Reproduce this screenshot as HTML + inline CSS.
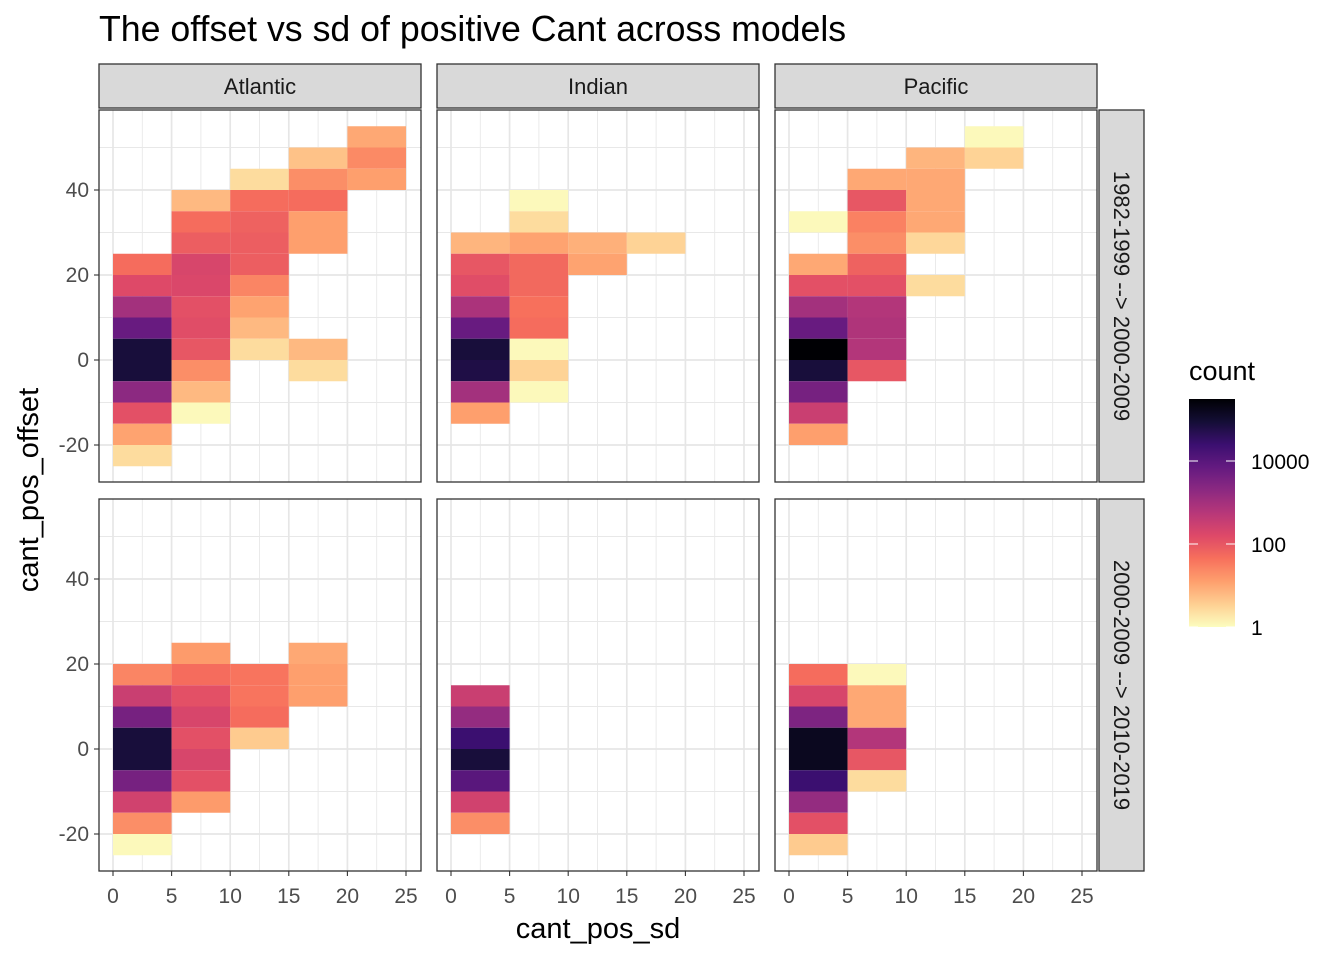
<!DOCTYPE html>
<html><head><meta charset="utf-8">
<style>
body{margin:0;background:#fff;}
svg text{font-family:"Liberation Sans",sans-serif;}
</style></head>
<body>
<svg id="chart" width="1344" height="960" viewBox="0 0 1344 960" xmlns="http://www.w3.org/2000/svg">
<rect width="1344" height="960" fill="#fff"/>
<text x="99" y="41" font-size="35.7" fill="#000">The offset vs sd of positive Cant across models</text>
<g id="panels"></g>
<text x="598" y="938" font-size="29" text-anchor="middle">cant_pos_sd</text>
<text transform="translate(38,490) rotate(-90)" font-size="29" text-anchor="middle">cant_pos_offset</text>
<g id="legend"></g>
</svg>
<script>
const NS="http://www.w3.org/2000/svg";
const facetCols=["Atlantic","Indian","Pacific"];
const facetRows=["1982-1999 --> 2000-2009","2000-2009 --> 2010-2019"];
const xTicks=[0,5,10,15,20,25];
const yTicks=[-20,0,20,40];
const legendTicks=[1,100,10000];
// tiles: [col, row, sdBinStart, offsetBinStart, log10(count)]
const tileCol=[];const tileRow=[];const tileX=[];const tileY=[];const tileLog=[];
function add(c,r,x,list){for(const [y,l] of list){tileCol.push(c);tileRow.push(r);tileX.push(x);tileY.push(y);tileLog.push(l);}}
// Atlantic top
add(0,0,0,[[20,1.7],[15,2.2],[10,3.0],[5,3.8],[0,4.9],[-5,4.9],[-10,3.3],[-15,2.1],[-20,1.05],[-25,0.4]]);
add(0,0,5,[[35,0.8],[30,1.7],[25,1.9],[20,2.3],[15,2.25],[10,2.1],[5,2.15],[0,2.0],[-5,1.3],[-10,0.8],[-15,0.05]]);
add(0,0,10,[[40,0.4],[35,1.7],[30,1.85],[25,1.9],[20,1.9],[15,1.4],[10,1.05],[5,0.8],[0,0.4]]);
add(0,0,15,[[45,0.7],[40,1.3],[35,1.7],[30,1.1],[25,1.1],[0,0.8],[-5,0.4]]);
add(0,0,20,[[50,1.0],[45,1.35],[40,1.1]]);
// Indian top
add(1,0,0,[[25,0.85],[20,2.0],[15,2.15],[10,2.9],[5,3.8],[0,4.9],[-5,4.8],[-10,3.0],[-15,1.1]]);
add(1,0,5,[[35,0.05],[30,0.4],[25,1.05],[20,1.75],[15,1.75],[10,1.65],[5,1.7],[0,0.05],[-5,0.5],[-10,0.05]]);
add(1,0,10,[[25,0.9],[20,1.05]]);
add(1,0,15,[[25,0.5]]);
// Pacific top
add(2,0,0,[[30,0.05],[20,1.0],[15,2.1],[10,3.0],[5,3.8],[0,5.5],[-5,4.9],[-10,3.6],[-15,2.5],[-20,1.1]]);
add(2,0,5,[[40,1.0],[35,2.0],[30,1.45],[25,1.3],[20,1.85],[15,2.1],[10,2.8],[5,2.85],[0,2.8],[-5,2.0]]);
add(2,0,10,[[45,0.85],[40,1.0],[35,1.0],[30,1.0],[25,0.45],[15,0.4]]);
add(2,0,15,[[50,0.05],[45,0.5]]);
// Atlantic bottom
add(0,1,0,[[15,1.4],[10,2.5],[5,3.6],[0,4.9],[-5,4.9],[-10,3.6],[-15,2.4],[-20,1.3],[-25,0.05]]);
add(0,1,5,[[20,1.15],[15,1.7],[10,2.1],[5,2.3],[0,2.1],[-5,2.3],[-10,2.1],[-15,1.15]]);
add(0,1,10,[[15,1.6],[10,1.6],[5,1.7],[0,0.6]]);
add(0,1,15,[[20,1.0],[15,1.1],[10,1.1]]);
// Indian bottom
add(1,1,0,[[10,2.5],[5,3.2],[0,4.4],[-5,4.9],[-10,4.0],[-15,2.4],[-20,1.3]]);
// Pacific bottom
add(2,1,0,[[15,1.7],[10,2.3],[5,3.5],[0,5.2],[-5,5.2],[-10,4.4],[-15,3.2],[-20,2.1],[-25,0.6]]);
add(2,1,5,[[15,0.05],[10,1.0],[5,1.0],[0,2.8],[-5,2.0],[-10,0.4]]);

const maxLog=5.5;
const magma=["#000004","#140e36","#3b0f70","#641a80","#8c2981","#b73779","#de4968","#f7705c","#fe9f6d","#fecf92","#fcfdbf"];
function hx(h){return [1,3,5].map(i=>parseInt(h.substr(i,2),16));}
function color(l){let t=1-Math.max(0,Math.min(maxLog,l))/maxLog;const p=t*10;const i=Math.min(9,Math.floor(p));const f=p-i;const a=hx(magma[i]),b=hx(magma[i+1]);return "rgb("+a.map((v,k)=>Math.round(v+(b[k]-v)*f)).join(",")+")";}
function el(tag,attrs,parent){const e=document.createElementNS(NS,tag);for(const k in attrs)e.setAttribute(k,attrs[k]);parent.appendChild(e);return e;}

const panelsG=document.getElementById("panels");
const colX0=[99,437,775], pw=322;
const rowY0=[110,499], ph=372;
const xs=(c,v)=>colX0[c]+14+v*11.72;
const ys=(r,v)=>rowY0[r]+250+( -v)*4.25;

for(let c=0;c<3;c++){
  const strip=el("rect",{x:colX0[c],y:64,width:pw,height:44,fill:"#d9d9d9",stroke:"#333","stroke-width":1.3},panelsG);
  
  
  const st=el("text",{x:colX0[c]+pw/2,y:94,"font-size":22,"text-anchor":"middle",fill:"#1a1a1a"},panelsG);
  st.textContent=facetCols[c];
  
  
}
for(let r=0;r<2;r++){
  const rs=el("rect",{x:1099,y:rowY0[r],width:45,height:ph,fill:"#d9d9d9",stroke:"#333","stroke-width":1.3},panelsG);
  
  
  const cy=rowY0[r]+ph/2;
  const rt=el("text",{transform:`translate(1114,${cy}) rotate(90)`,"font-size":22,"text-anchor":"middle",fill:"#1a1a1a"},panelsG);
  rt.textContent=facetRows[r];
  
  
}
for(let r=0;r<2;r++)for(let c=0;c<3;c++){
  const g=el("g",{},panelsG);
  
  
  el("rect",{x:colX0[c],y:rowY0[r],width:pw,height:ph,fill:"#fff"},g);
  for(const v of [2.5,7.5,12.5,17.5,22.5]) el("line",{x1:xs(c,v),x2:xs(c,v),y1:rowY0[r],y2:rowY0[r]+ph,stroke:"#e8e8e8","stroke-width":0.9},g);
  for(const v of [-10,10,30,50]) el("line",{x1:colX0[c],x2:colX0[c]+pw,y1:ys(r,v),y2:ys(r,v),stroke:"#e8e8e8","stroke-width":0.9},g);
  for(const v of xTicks) el("line",{x1:xs(c,v),x2:xs(c,v),y1:rowY0[r],y2:rowY0[r]+ph,stroke:"#e6e6e6","stroke-width":1.7},g);
  for(const v of yTicks) el("line",{x1:colX0[c],x2:colX0[c]+pw,y1:ys(r,v),y2:ys(r,v),stroke:"#e6e6e6","stroke-width":1.7},g);
  for(let i=0;i<tileCol.length;i++){
    if(tileCol[i]!==c||tileRow[i]!==r)continue;
    const x1=xs(c,tileX[i]),x2=xs(c,tileX[i]+5),y1=ys(r,tileY[i]+5),y2=ys(r,tileY[i]);
    const t=el("rect",{x:x1,y:y1,width:x2-x1,height:y2-y1,fill:color(tileLog[i])},g);
    
    
  }
  el("rect",{x:colX0[c],y:rowY0[r],width:pw,height:ph,fill:"none",stroke:"#333","stroke-width":1.3},g);
  if(r===1){for(const v of xTicks){el("line",{x1:xs(c,v),x2:xs(c,v),y1:871,y2:876,stroke:"#333","stroke-width":1.1},g);
    const tt=el("text",{x:xs(c,v),y:903,"font-size":21,"text-anchor":"middle",fill:"#4d4d4d"},g);tt.textContent=v;
    
    }}
  if(c===0){for(const v of yTicks){el("line",{x1:94,x2:99,y1:ys(r,v),y2:ys(r,v),stroke:"#333","stroke-width":1.1},g);
    const tt=el("text",{x:89,y:ys(r,v)+7,"font-size":21,"text-anchor":"end",fill:"#4d4d4d"},g);tt.textContent=v;
    
    }}
}
const lg=document.getElementById("legend");


const lt=el("text",{x:1189,y:380,"font-size":27},lg);lt.textContent="count";
const defs=el("defs",{},lg);const gr=el("linearGradient",{id:"lgr",x1:0,y1:1,x2:0,y2:0},defs);
for(let i=0;i<=20;i++)el("stop",{offset:i/20,"stop-color":color(maxLog*i/20)},gr);
const barTop=399,barBot=627,per=41.5;
el("rect",{x:1189,y:barTop,width:46,height:barBot-barTop,fill:"url(#lgr)"},lg);
for(const v of legendTicks){const y=barBot-Math.log10(v)*per;
  el("line",{x1:1189,x2:1198,y1:y,y2:y,stroke:"#fff","stroke-width":1},lg);
  el("line",{x1:1226,x2:1235,y1:y,y2:y,stroke:"#fff","stroke-width":1},lg);
  const tt=el("text",{x:1251,y:y+8,"font-size":21,fill:"#000"},lg);tt.textContent=v;
  
  }
</script>
</body></html>
